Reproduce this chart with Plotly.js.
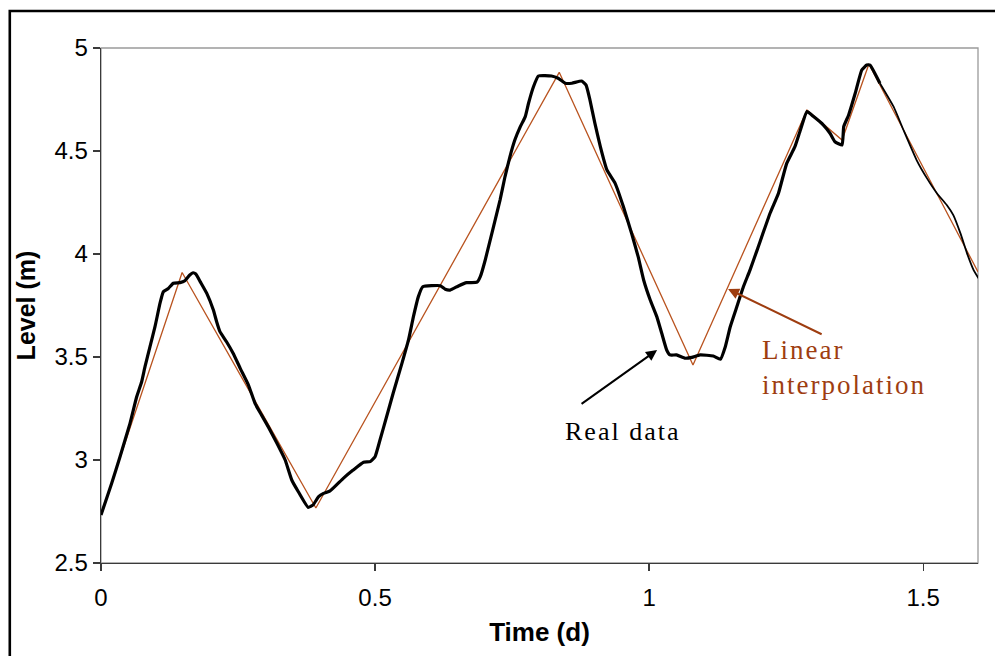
<!DOCTYPE html>
<html>
<head>
<meta charset="utf-8">
<script src="https://cdn.plot.ly/plotly-3.0.1.min.js"></script>
<style>
  html, body { margin: 0; padding: 0; background: #fff; }
  #chart { width: 995px; height: 656px; }
  .annotation-text { letter-spacing: 2px; }
</style>
</head>
<body>
<div id="chart"></div>
<script>
// Measured water level (m) against time (d)
const realTime = [0, 0.004, 0.0195, 0.0347, 0.0529, 0.0651, 0.0742, 0.0803, 0.0894, 0.0985,
  0.1077, 0.1137, 0.1229, 0.132, 0.144, 0.153, 0.162, 0.168, 0.173, 0.181,
  0.193, 0.205, 0.211, 0.217, 0.229, 0.241, 0.254, 0.269, 0.281, 0.293,
  0.305, 0.321, 0.336, 0.348, 0.360, 0.378, 0.387, 0.397, 0.406, 0.418,
  0.442, 0.460, 0.479, 0.491, 0.500, 0.509, 0.521, 0.533, 0.549, 0.561,
  0.570, 0.579, 0.587, 0.619, 0.628, 0.637, 0.652, 0.667, 0.686, 0.692,
  0.701, 0.728, 0.737, 0.746, 0.755, 0.765, 0.774, 0.780, 0.789, 0.798,
  0.822, 0.834, 0.847, 0.859, 0.877, 0.885, 0.892, 0.901, 0.911, 0.923,
  0.938, 0.953, 0.968, 0.980, 0.990, 1.002, 1.014, 1.023, 1.032, 1.038,
  1.050, 1.066, 1.078, 1.093, 1.117, 1.130, 1.139, 1.148, 1.160, 1.172,
  1.184, 1.197, 1.221, 1.236, 1.251, 1.266, 1.276, 1.288, 1.300, 1.318,
  1.330, 1.339, 1.352, 1.355, 1.364, 1.376, 1.388, 1.397, 1.403, 1.421,
  1.446, 1.464, 1.488, 1.507, 1.525, 1.543, 1.555, 1.568, 1.580, 1.592, 1.601];
const realLevel = [2.733, 2.765, 2.887, 3.016, 3.178, 3.307, 3.380, 3.453, 3.550, 3.647,
  3.761, 3.817, 3.833, 3.858, 3.861, 3.870, 3.898, 3.909, 3.903, 3.866,
  3.809, 3.728, 3.671, 3.623, 3.574, 3.518, 3.445, 3.364, 3.275, 3.218,
  3.162, 3.081, 3.000, 2.903, 2.846, 2.770, 2.782, 2.822, 2.838, 2.850,
  2.911, 2.951, 2.989, 2.992, 3.016, 3.097, 3.210, 3.324, 3.469, 3.583,
  3.696, 3.793, 3.841, 3.846, 3.829, 3.825, 3.845, 3.861, 3.863, 3.890,
  3.971, 4.262, 4.375, 4.472, 4.553, 4.618, 4.667, 4.732, 4.812, 4.864,
  4.864, 4.853, 4.829, 4.829, 4.840, 4.820, 4.748, 4.635, 4.521, 4.408,
  4.343, 4.230, 4.100, 3.987, 3.874, 3.777, 3.696, 3.615, 3.534, 3.510,
  3.510, 3.494, 3.498, 3.510, 3.505, 3.489, 3.550, 3.647, 3.744, 3.841,
  3.922, 4.019, 4.200, 4.295, 4.440, 4.521, 4.602, 4.691, 4.667, 4.626,
  4.586, 4.545, 4.529, 4.618, 4.675, 4.780, 4.893, 4.917, 4.917, 4.829,
  4.715, 4.602, 4.456, 4.367, 4.295, 4.238, 4.189, 4.100, 4.003, 3.922, 3.882];

// Sampled points joined by straight segments
const interpTime = [0, 0.148, 0.392, 0.836, 1.080, 1.288, 1.352, 1.401, 1.600];
const interpLevel = [2.735, 3.910, 2.767, 4.882, 3.461, 4.699, 4.553, 4.922, 3.913];

const xTicks = [0, 0.5, 1, 1.5];
const xTickText = ['0', '0.5', '1', '1.5'];
const yTicks = [2.5, 3, 3.5, 4, 4.5, 5];
const yTickText = ['2.5', '3', '3.5', '4', '4.5', '5'];

// thick stroke until just after the last peak, thinner afterwards
const split = realTime.findIndex(t => t >= 1.421);

const axisDark = '#3a3a3a';
const brown = '#B9531F';
const textBrown = '#9E3D10';

const traces = [
  {
    x: interpTime, y: interpLevel, type: 'scatter', mode: 'lines',
    line: { color: brown, width: 1.3 }, hoverinfo: 'skip', showlegend: false
  },
  {
    x: realTime.slice(0, split + 1), y: realLevel.slice(0, split + 1),
    type: 'scatter', mode: 'lines',
    line: { color: '#000', width: 3.2, shape: 'spline', smoothing: 0.4 },
    hoverinfo: 'skip', showlegend: false
  },
  {
    x: realTime.slice(split), y: realLevel.slice(split),
    type: 'scatter', mode: 'lines',
    line: { color: '#000', width: 1.8, shape: 'spline', smoothing: 0.4 },
    hoverinfo: 'skip', showlegend: false
  }
];

const layout = {
  width: 995, height: 656,
  margin: { l: 101, r: 17, t: 48, b: 93 },
  paper_bgcolor: '#fff', plot_bgcolor: '#fff',
  showlegend: false,
  font: { family: 'Arial, "Liberation Sans", sans-serif', color: '#000' },
  xaxis: {
    range: [0, 1.6], tickvals: xTicks, ticktext: xTickText,
    showgrid: false, zeroline: false,
    showline: true, linecolor: axisDark, linewidth: 1.3,
    ticks: 'outside', ticklen: 7, tickcolor: axisDark, tickwidth: 1.3,
    ticklabelstandoff: 6,
    tickfont: { size: 24, color: '#000' },
    title: { text: '<b>Time (d)</b>', font: { size: 26, color: '#000' }, standoff: 12 }
  },
  yaxis: {
    range: [2.5, 5], tickvals: yTicks, ticktext: yTickText,
    showgrid: false, zeroline: false,
    showline: true, linecolor: axisDark, linewidth: 1.3,
    ticks: 'outside', ticklen: 7, tickcolor: axisDark, tickwidth: 1.3,
    tickfont: { size: 24, color: '#000' },
    title: { text: '<b>Level (m)</b>', font: { size: 25, color: '#000' }, standoff: 11 }
  },
  shapes: [
    // light frame around the plotting area
    { type: 'rect', xref: 'paper', yref: 'paper', x0: 0, x1: 1, y0: 0, y1: 1,
      line: { color: '#9a9a9a', width: 1.3 }, layer: 'below' },
    // outer chart border
    { type: 'rect', xref: 'paper', yref: 'paper',
      x0: -0.104, x1: 1.05, y0: -0.25, y1: 1.0718,
      line: { color: '#000', width: 2.6 }, fillcolor: 'rgba(0,0,0,0)' }
  ],
  annotations: [
    { x: 1.0146, y: 3.534, ax: 0.874, ay: 3.267, axref: 'x', ayref: 'y',
      xref: 'x', yref: 'y', text: '', showarrow: true,
      arrowhead: 2, arrowsize: 1.1, arrowwidth: 2, arrowcolor: '#000' },
    { x: 1.144, y: 3.830, ax: 1.3175, ay: 3.607, axref: 'x', ayref: 'y',
      xref: 'x', yref: 'y', text: '', showarrow: true,
      arrowhead: 2, arrowsize: 1.1, arrowwidth: 2, arrowcolor: textBrown },
    { x: 0.951, y: 3.136, xref: 'x', yref: 'y', text: 'Real data', showarrow: false,
      xanchor: 'center', yanchor: 'middle',
      font: { family: '"Liberation Serif", "Times New Roman", serif', size: 26, color: '#000' } },
    { x: 1.2026, y: 3.447, xref: 'x', yref: 'y', text: 'Linear<br>interpolation',
      showarrow: false, xanchor: 'left', yanchor: 'middle', align: 'left',
      font: { family: '"Liberation Serif", "Times New Roman", serif', size: 27, color: textBrown } }
  ]
};

Plotly.newPlot('chart', traces, layout, { displayModeBar: false, staticPlot: true });
</script>
</body>
</html>
